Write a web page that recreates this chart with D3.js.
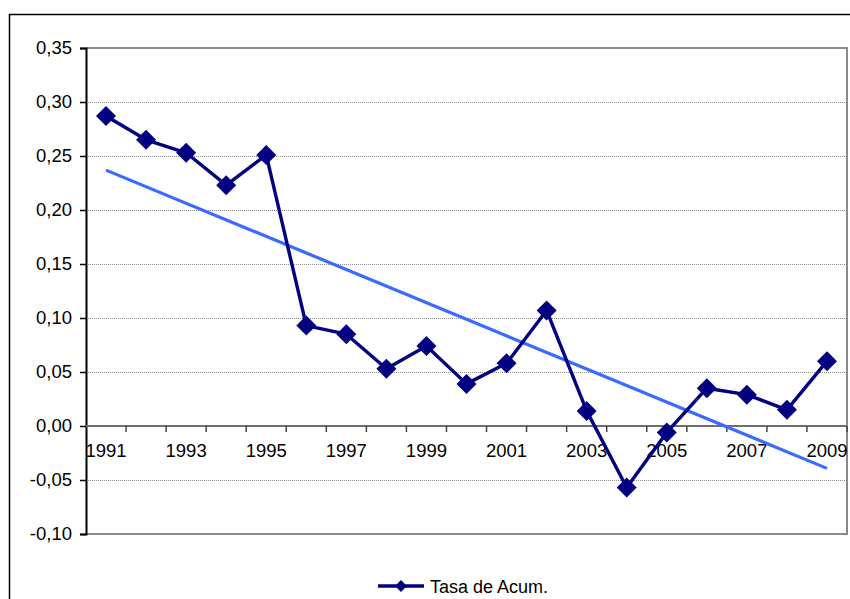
<!DOCTYPE html>
<html>
<head>
<meta charset="utf-8">
<script src="https://cdn.jsdelivr.net/npm/d3@7"></script>
<style>
  html, body { margin: 0; padding: 0; background: #fff; }
  svg { display: block; }
  text { font-family: "Liberation Sans", Arial, sans-serif; fill: #000; }
</style>
</head>
<body>
<svg id="chart" width="850" height="599"></svg>
<script>
// Years on the category axis
const years = [1991, 1992, 1993, 1994, 1995, 1996, 1997, 1998, 1999, 2000,
               2001, 2002, 2003, 2004, 2005, 2006, 2007, 2008, 2009];
// Accumulation rate per year
const tasaAcum = [0.287, 0.265, 0.253, 0.223, 0.251, 0.093, 0.085, 0.053, 0.074, 0.039,
                  0.058, 0.107, 0.014, -0.057, -0.006, 0.035, 0.029, 0.015, 0.060];
// Value axis ticks and the years that carry a label
const yTicks = [-0.10, -0.05, 0.00, 0.05, 0.10, 0.15, 0.20, 0.25, 0.30, 0.35];
const labelYears = [1991, 1993, 1995, 1997, 1999, 2001, 2003, 2005, 2007, 2009];
const seriesName = "Tasa de Acum.";

const svg = d3.select("#chart");
const plot = { left: 86, right: 847, top: 48, bottom: 534 };

const x = d3.scaleBand().domain(years).range([plot.left, plot.right]).padding(0);
const y = d3.scaleLinear().domain([-0.10, 0.35]).range([plot.bottom, plot.top]);
const cx = d => x(d) + x.bandwidth() / 2;
const fmt = v => d3.format(".2f")(v).replace(".", ",").replace("−", "-");

// Outer chart frame (runs past the right and bottom edges)
svg.append("rect")
  .attr("x", 9.5).attr("y", 14.5).attr("width", 900).attr("height", 700)
  .attr("fill", "none").attr("stroke", "#000").attr("stroke-width", 1.5);

// Dotted horizontal gridlines
svg.append("g").selectAll("line")
  .data(yTicks.filter(v => v > -0.10 && v < 0.35 && Math.abs(v) > 1e-9))
  .join("line")
  .attr("x1", plot.left).attr("x2", plot.right)
  .attr("y1", d => Math.round(y(d)) + 0.5).attr("y2", d => Math.round(y(d)) + 0.5)
  .attr("stroke", "#8c8c8c").attr("stroke-width", 1)
  .attr("stroke-dasharray", "1,1");

// Plot area border: top, right, bottom
svg.append("path")
  .attr("d", `M${plot.left},${plot.top}H${plot.right}V${plot.bottom}H${plot.left}`)
  .attr("fill", "none").attr("stroke", "#8a8a8a").attr("stroke-width", 2);

// Value axis
const yAxis = d3.axisLeft(y).tickValues(yTicks).tickFormat(fmt).tickSize(6).tickPadding(8);
const gy = svg.append("g").attr("transform", `translate(${plot.left},0)`).call(yAxis);
gy.select(".domain").attr("stroke", "#000").attr("stroke-width", 2);
gy.selectAll(".tick line").attr("stroke", "#000").attr("stroke-width", 1.5);
gy.selectAll(".tick text")
  .style("font-family", "'Liberation Sans', Arial, sans-serif")
  .style("font-size", "18.5px").attr("fill", "#000");

// Category axis on the zero line, ticks between categories
const y0 = y(0);
const gx = svg.append("g");
gx.append("line")
  .attr("x1", plot.left).attr("x2", plot.right)
  .attr("y1", y0).attr("y2", y0)
  .attr("stroke", "#6e6e6e").attr("stroke-width", 2);
gx.selectAll("line.tk")
  .data(years.slice(1).concat(["end"]))
  .join("line").attr("class", "tk")
  .attr("x1", d => d === "end" ? plot.right : x(d))
  .attr("x2", d => d === "end" ? plot.right : x(d))
  .attr("y1", y0).attr("y2", y0 + 6)
  .attr("stroke", "#444").attr("stroke-width", 1.5);
gx.selectAll("text")
  .data(labelYears)
  .join("text")
  .attr("x", d => cx(d)).attr("y", y0 + 31)
  .attr("text-anchor", "middle")
  .style("font-size", "18.5px")
  .text(d => d);

// Linear trend line fitted by least squares
const n = years.length;
const idx = d3.range(n);
const mx = d3.mean(idx), my = d3.mean(tasaAcum);
const slope = d3.sum(idx, i => (i - mx) * (tasaAcum[i] - my)) / d3.sum(idx, i => (i - mx) ** 2);
const icpt = my - slope * mx;
svg.append("line")
  .attr("x1", cx(years[0])).attr("y1", y(icpt))
  .attr("x2", cx(years[n - 1])).attr("y2", y(icpt + slope * (n - 1)))
  .attr("stroke", "#3a6bff").attr("stroke-width", 3.2);

// Series line
const line = d3.line().x((d, i) => cx(years[i])).y(d => y(d));
svg.append("path")
  .datum(tasaAcum)
  .attr("d", line)
  .attr("fill", "none").attr("stroke", "#000080").attr("stroke-width", 3.4)
  .attr("stroke-linejoin", "round");

// Diamond markers
const diamond = d3.symbol().type(d3.symbolSquare).size(200);
svg.append("g").selectAll("path")
  .data(tasaAcum)
  .join("path")
  .attr("d", diamond)
  .attr("transform", (d, i) => `translate(${cx(years[i])},${y(d)}) rotate(45)`)
  .attr("fill", "#000080");

// Legend
const lg = svg.append("g").attr("transform", "translate(378,586)");
lg.append("line").attr("x1", 0).attr("x2", 46).attr("y1", 0).attr("y2", 0)
  .attr("stroke", "#000080").attr("stroke-width", 3.4);
lg.append("path").attr("d", d3.symbol().type(d3.symbolSquare).size(70))
  .attr("transform", "translate(23,0) rotate(45)").attr("fill", "#000080");
lg.append("text").attr("x", 52).attr("y", 6.5)
  .style("font-size", "18px").text(seriesName);
</script>
</body>
</html>
